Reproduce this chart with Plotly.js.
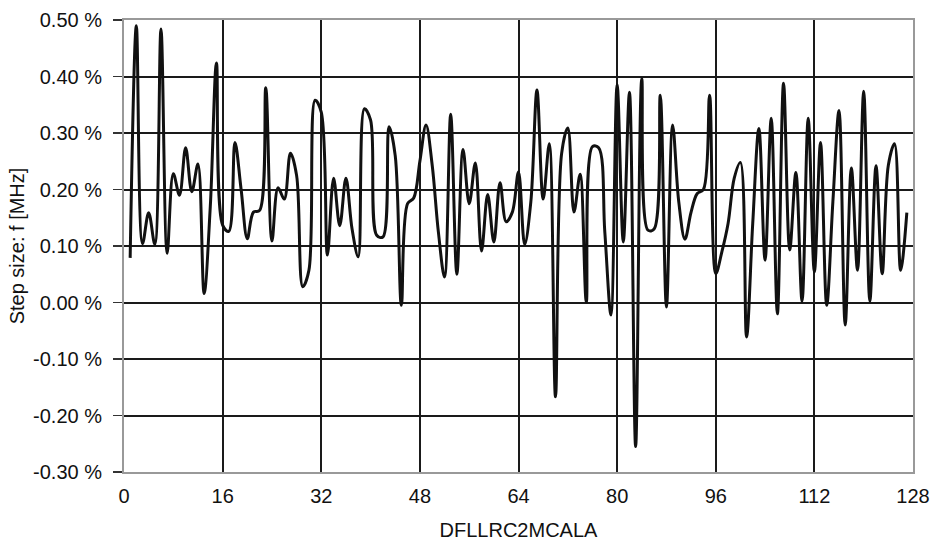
<!DOCTYPE html>
<html>
<head>
<meta charset="utf-8">
<script src="https://cdn.plot.ly/plotly-3.0.1.min.js"></script>
<style>html,body{margin:0;padding:0;background:#fff}#chart{width:931px;height:550px}</style>
</head>
<body>
<div id="chart"></div>
<script>
// Index along the DFLLRC2MCALA axis
const xIndex = [];
for (let i = 1; i <= 127; i++) xIndex.push(i);

// Step size values in percent
const stepSize = [
  0.079, 0.490, 0.104, 0.159, 0.103, 0.484, 0.087, 0.228, 0.190, 0.274,
  0.196, 0.245, 0.016, 0.170, 0.424, 0.137, 0.126, 0.283, 0.200, 0.113,
  0.160, 0.163, 0.380, 0.109, 0.203, 0.183, 0.264, 0.225, 0.028, 0.057,
  0.358, 0.337, 0.084, 0.220, 0.136, 0.220, 0.130, 0.081, 0.343, 0.323,
  0.119, 0.116, 0.311, 0.260, -0.005, 0.175, 0.185, 0.250, 0.314, 0.243,
  0.125, 0.045, 0.333, 0.050, 0.271, 0.175, 0.247, 0.091, 0.191, 0.107,
  0.212, 0.143, 0.160, 0.231, 0.103, 0.178, 0.376, 0.183, 0.281, -0.167,
  0.264, 0.309, 0.160, 0.227, 0.001, 0.276, 0.274, 0.125, -0.022, 0.386,
  0.107, 0.372, -0.255, 0.396, 0.128, 0.130, 0.367, -0.008, 0.314, 0.178,
  0.112, 0.160, 0.193, 0.200, 0.367, 0.051, 0.090, 0.140, 0.220, 0.248,
  -0.061, 0.140, 0.308, 0.075, 0.326, -0.020, 0.388, 0.093, 0.230, 0.002,
  0.326, 0.054, 0.283, -0.005, 0.178, 0.340, -0.040, 0.238, 0.057, 0.374,
  0.002, 0.242, 0.051, 0.243, 0.281, 0.057, 0.159
];

const xTicks = [0, 16, 32, 48, 64, 80, 96, 112, 128];
const yTicks = [-0.3, -0.2, -0.1, 0.0, 0.1, 0.2, 0.3, 0.4, 0.5];

const fontFamily = '"Liberation Sans", Arial, Helvetica, sans-serif';
const fs = 20;

const trace = {
  x: xIndex,
  y: stepSize,
  type: 'scatter',
  mode: 'lines',
  line: {color: '#111111', width: 3, shape: 'spline', smoothing: 1},
  hoverinfo: 'x+y'
};

const layout = {
  width: 931,
  height: 550,
  margin: {l: 124, r: 18, t: 20, b: 78},
  paper_bgcolor: '#ffffff',
  plot_bgcolor: '#ffffff',
  showlegend: false,
  font: {family: fontFamily, size: fs, color: '#111111'},
  xaxis: {
    range: [0, 128],
    tickmode: 'array',
    tickvals: xTicks,
    ticktext: xTicks.map(String),
    showgrid: true,
    gridcolor: '#1a1a1a',
    gridwidth: 2,
    zeroline: false,
    showline: true,
    linecolor: '#999999',
    linewidth: 2,
    mirror: true,
    ticks: '',
    ticklabelstandoff: 5,
    ticklabeloverflow: 'allow',
    automargin: false,
    tickfont: {size: fs, color: '#111111'},
    title: {text: 'DFLLRC2MCALA', font: {size: fs, color: '#111111'}, standoff: 17}
  },
  yaxis: {
    range: [-0.3, 0.5],
    tickmode: 'array',
    tickvals: yTicks,
    ticktext: yTicks.map(v => v.toFixed(2) + ' %'),
    showgrid: true,
    gridcolor: '#1a1a1a',
    gridwidth: 2,
    zeroline: false,
    showline: true,
    linecolor: '#999999',
    linewidth: 2,
    mirror: true,
    ticks: 'outside',
    ticklen: 9,
    tickwidth: 1.5,
    tickcolor: '#333333',
    ticklabelstandoff: 7,
    ticklabeloverflow: 'allow',
    automargin: false,
    tickfont: {size: fs, color: '#111111'},
    title: {text: 'Step size: f [MHz]', font: {size: fs, color: '#111111'}, standoff: 3}
  }
};

Plotly.newPlot('chart', [trace], layout, {displayModeBar: false, staticPlot: true});
</script>
</body>
</html>
